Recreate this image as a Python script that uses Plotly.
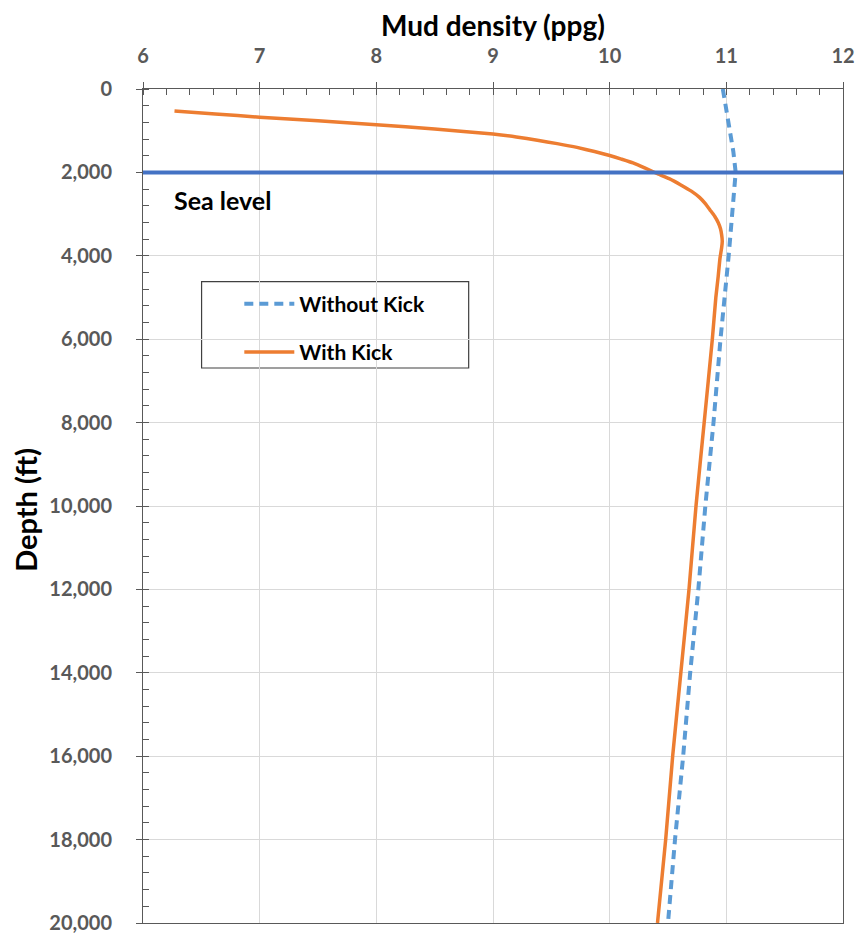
import plotly.graph_objects as go

# ---- data ----
depth_without = [0, 500, 1000, 1500, 2000, 4000, 6000, 8000, 10000, 12000, 14000, 16000, 18000, 20000]
dens_without = [10.97, 11.00, 11.03, 11.06, 11.08, 11.02, 10.95, 10.89, 10.82, 10.76, 10.69, 10.63, 10.56, 10.50]

depth_with = [530, 600, 675, 760, 857, 960, 1080, 1150, 1230, 1310, 1400, 1500, 1595, 1680, 1770, 1890,
              2020, 2150, 2300, 2450, 2600, 2750, 2900, 3050, 3200, 3350, 3500, 3650, 3800, 4070, 4500,
              5000, 6000, 8000, 10000, 12000, 14000, 16000, 18000, 20000]
dens_with = [6.27, 6.62, 7.00, 7.50, 8.00, 8.50, 9.00, 9.20, 9.38, 9.55, 9.72, 9.87, 10.00, 10.10, 10.20, 10.30,
             10.40, 10.51, 10.61, 10.70, 10.77, 10.82, 10.86, 10.90, 10.93, 10.95, 10.96, 10.965, 10.96, 10.945, 10.93,
             10.91, 10.88, 10.81, 10.74, 10.68, 10.61, 10.54, 10.48, 10.41]

sea_level_depth = 2000
x_ticks = [6, 7, 8, 9, 10, 11, 12]
y_ticks = [0, 2000, 4000, 6000, 8000, 10000, 12000, 14000, 16000, 18000, 20000]
y_tick_labels = ["0", "2,000", "4,000", "6,000", "8,000", "10,000", "12,000", "14,000", "16,000", "18,000", "20,000"]

FONT = "Lato"
AX = "#595959"
GRID = "#D9D9D9"

# page has an 8px body margin; work in figure pixels
W, H = 859, 938
L, R, T, B = 135, 19, 81, 17
PW, PH = W - L - R, H - T - B


def px_x(p):
    return (p - 8 - L) / PW


def px_y(p):
    return 1 - (p - 8 - T) / PH


fig = go.Figure()
fig.add_trace(go.Scatter(x=dens_without, y=depth_without, mode="lines", name="Without Kick",
                         line=dict(color="#5B9BD5", width=4, dash="9px,6px"), legendgroup="a"))
fig.add_trace(go.Scatter(x=dens_with, y=depth_with, mode="lines", name="With Kick",
                         line=dict(color="#ED7D31", width=3.5, shape="spline", smoothing=0.4), legendgroup="b"))

fig.add_shape(type="line", xref="x domain", yref="y", x0=0, x1=1, y0=sea_level_depth, y1=sea_level_depth,
              line=dict(color="#4472C4", width=4), layer="above")

fig.add_annotation(text="<b>Sea level</b>", xref="x", yref="y", x=6.247, y=2667, xanchor="left", yanchor="middle",
                   showarrow=False, font=dict(family=FONT, size=25, color="black"))

# axis titles
fig.add_annotation(text="<b>Mud density (ppg)</b>", xref="paper", yref="paper", x=px_x(496), y=px_y(25),
                   xanchor="center", yanchor="middle", showarrow=False,
                   font=dict(family=FONT, size=28, color="black"))
fig.add_annotation(text="<b>Depth (ft)</b>", xref="paper", yref="paper", x=px_x(25), y=px_y(513),
                   xanchor="center", yanchor="middle", showarrow=False, textangle=-90,
                   font=dict(family=FONT, size=29, color="black"))

# legend frame
fig.add_shape(type="rect", xref="paper", yref="paper",
              x0=px_x(202), x1=px_x(471), y0=px_y(370), y1=px_y(283),
              line=dict(color="#404040", width=1.2), fillcolor="white", layer="below")

fig.update_layout(
    width=W, height=H,
    margin=dict(l=L, r=R, t=T, b=B),
    paper_bgcolor="white", plot_bgcolor="rgba(0,0,0,0)",
    showlegend=True,
    legend=dict(x=px_x(240), y=px_y(285), xanchor="left", yanchor="top",
                bgcolor="rgba(0,0,0,0)", borderwidth=0, tracegroupgap=18,
                font=dict(family=FONT, size=21, color="black", weight="bold"), itemwidth=50),
    xaxis=dict(range=[6, 12], side="top", tickvals=x_ticks, ticks="outside", ticklen=6,
               tickcolor=AX, tickwidth=1, showline=True, linecolor=AX, linewidth=1, mirror=True,
               showgrid=True, gridcolor=GRID, gridwidth=1, zeroline=False,
               minor=dict(dtick=0.2, ticks="inside", ticklen=6, tickcolor=AX, showgrid=False),
               tickfont=dict(family=FONT, size=20, color=AX, weight="bold"), ticklabelstandoff=11),
    yaxis=dict(range=[20000, 0], tickvals=y_ticks, ticktext=y_tick_labels, ticks="outside", ticklen=6,
               tickcolor=AX, tickwidth=1, showline=True, linecolor=AX, linewidth=1, mirror=True,
               showgrid=True, gridcolor=GRID, gridwidth=1, zeroline=False,
               minor=dict(dtick=400, ticks="inside", ticklen=6, tickcolor=AX, showgrid=False),
               tickfont=dict(family=FONT, size=20, color=AX, weight="bold"), ticklabelstandoff=20),
    xaxis2=dict(overlaying="x", matches="x", side="top", range=[6, 12], tickvals=x_ticks, ticks="inside",
                ticklen=6, tickcolor=AX, showticklabels=False, showgrid=False, zeroline=False, showline=False),
    yaxis2=dict(overlaying="y", matches="y", range=[20000, 0], tickvals=y_ticks, ticks="inside",
                ticklen=6, tickcolor=AX, showticklabels=False, showgrid=False, zeroline=False, showline=False),
)

fig.write_html("out.html")
